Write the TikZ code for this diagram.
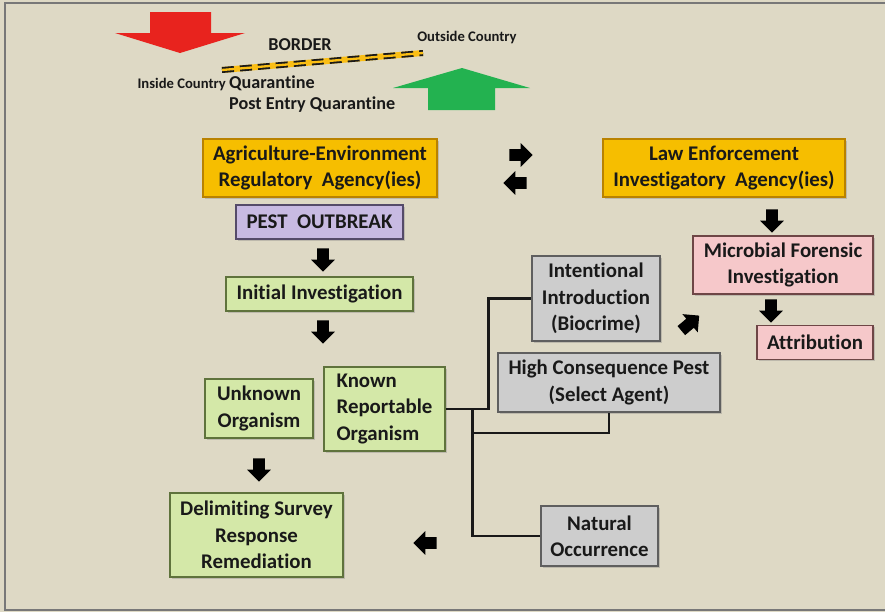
\documentclass[tikz,border=0pt]{standalone}
\usepackage{fontspec}
\setmainfont{Carlito}[Ligatures=NoCommon]
\usetikzlibrary{shapes.arrows,shadows}
\definecolor{bg}{RGB}{222,217,197}
\definecolor{frame}{RGB}{120,120,120}
\definecolor{ink}{RGB}{25,25,25}
\definecolor{goldfill}{RGB}{246,190,0}
\definecolor{golddraw}{RGB}{185,130,0}
\definecolor{lilac}{RGB}{200,186,226}
\definecolor{lilacdraw}{RGB}{85,75,105}
\definecolor{lime}{RGB}{212,232,168}
\definecolor{limedraw}{RGB}{95,115,60}
\definecolor{grayfill}{RGB}{205,205,205}
\definecolor{graydraw}{RGB}{95,95,95}
\definecolor{rose}{RGB}{246,200,202}
\definecolor{rosedraw}{RGB}{110,70,70}
\definecolor{redarrow}{RGB}{232,35,30}
\definecolor{greenarrow}{RGB}{35,178,80}
\definecolor{tape}{RGB}{250,190,20}
\begin{document}
\begin{tikzpicture}[x=0.03cm, y=-0.03cm,
  box/.style={draw, line width=1.2pt, align=center, inner sep=0pt, text=ink,
    font=\bfseries\fontsize{17.8}{22.5}\selectfont,
    drop shadow={shadow xshift=1.5pt, shadow yshift=-1.5pt, opacity=0.35}},
  agency/.style={box, fill=goldfill, draw=golddraw},
  outbreak/.style={box, fill=lilac, draw=lilacdraw},
  field/.style={box, fill=lime, draw=limedraw},
  pathway/.style={box, fill=grayfill, draw=graydraw},
  forensics/.style={box, fill=rose, draw=rosedraw},
  small/.style={text=ink, inner sep=0pt, font=\bfseries\fontsize{12.5}{15}\selectfont},
  mid/.style={text=ink, inner sep=0pt, font=\bfseries\fontsize{15.5}{18}\selectfont},
  blk/.style={single arrow, fill=black, inner sep=0.17cm, minimum height=0.7cm,
    single arrow head extend=0.18cm},
  link/.style={line width=2.5pt, ink}]
  \useasboundingbox (0,0) rectangle (885,612);
  \fill[bg] (0,0) rectangle (885,612);
  \draw[frame, line width=1.5pt] (886,3) -- (5,3) -- (5,610) -- (886,610);

  % border and the two big arrows
  \fill[redarrow] (150,12) -- (211,12) -- (211,33) -- (245,33) -- (180,53) -- (115,33) -- (150,33) -- cycle;
  \fill[greenarrow] (428,110) -- (495,110) -- (495,88) -- (530,88) -- (462,68) -- (393,88) -- (428,88) -- cycle;
  \draw[tape, line width=0.18cm] (222,70) -- (423,53);
  \draw[ink, line width=0.18cm, dash pattern=on 0.36cm off 0.18cm] (222,70) -- (423,53);
  \draw[tape, line width=0.07cm] (222,70) -- (423,53);

  \node[mid] (borderlbl) at (300,45) {BORDER};
  \node[small] (outside) at (467,38) {Outside Country};
  \node[small, anchor=base east] (inside) at (226,88) {Inside Country};
  \node[mid, anchor=base west] (quar) at (229,88) {Quarantine};
  \node[mid, anchor=base west] (peq) at (229,109) {Post Entry Quarantine};

  % boxes
  \node[agency, minimum width=7.02cm, minimum height=1.74cm] (agri) at (320,168) {Agriculture-Environment\\Regulatory\ \ Agency(ies)};
  \node[agency, minimum width=7.26cm, minimum height=1.74cm] (law) at (724,168) {Law Enforcement\\Investigatory\ \ Agency(ies)};
  \node[outbreak, minimum width=5.01cm, minimum height=1.02cm] (pest) at (319.5,222) {PEST\ \ OUTBREAK};
  \node[field, minimum width=5.61cm, minimum height=1.02cm] (init) at (319.5,294) {Initial Investigation};
  \node[pathway, minimum width=3.84cm, minimum height=2.55cm] (intro) at (596,298.5) {Intentional\\Introduction\\(Biocrime)};
  \node[forensics, minimum width=5.4cm, minimum height=1.74cm] (forensic) at (783,265) {Microbial Forensic\\Investigation};
  \node[forensics, minimum width=3.48cm, minimum height=1.02cm] (attr) at (815,342.5) {Attribution};
  \node[pathway, minimum width=6.66cm, minimum height=1.77cm] (hcp) at (609,382.5) {High Consequence Pest\\(Select Agent)};
  \node[field, minimum width=3.24cm, minimum height=1.77cm] (unk) at (259,408.5) {Unknown\\Organism};
  \node[field, minimum width=3.63cm, minimum height=2.52cm, align=left] (kro) at (384.5,409) {Known\\Reportable\\Organism};
  \node[field, minimum width=5.19cm, minimum height=2.52cm] (delim) at (256.5,535) {Delimiting Survey\\Response\\Remediation};
  \node[pathway, minimum width=3.51cm, minimum height=1.8cm] (nat) at (599.5,536) {Natural\\Occurrence};

  % block arrows
  \node[blk] (fwd) at (518,155) {};
  \node[blk, rotate=180] (back) at (518,183) {};
  \node[blk, rotate=-90] (d1) at (323,257) {};
  \node[blk, rotate=-90] (d2) at (323,329) {};
  \node[blk, rotate=-90] (d3) at (772,218) {};
  \node[blk, rotate=-90] (d4) at (771,308) {};
  \node[blk, rotate=-90] (d5) at (259,467) {};
  \node[blk, rotate=40] (diag) at (688,325) {};
  \node[blk, rotate=180] (left) at (428,543) {};

  % links
  \path (kro.east) ++(27,0) coordinate (split);
  \draw[link] (kro.east) -- ++(43,0) |- (intro.west);
  \draw[link] (split) -- ++(0,24) -| (hcp.south);
  \draw[link] (split) |- (nat.west);
\end{tikzpicture}
\end{document}
